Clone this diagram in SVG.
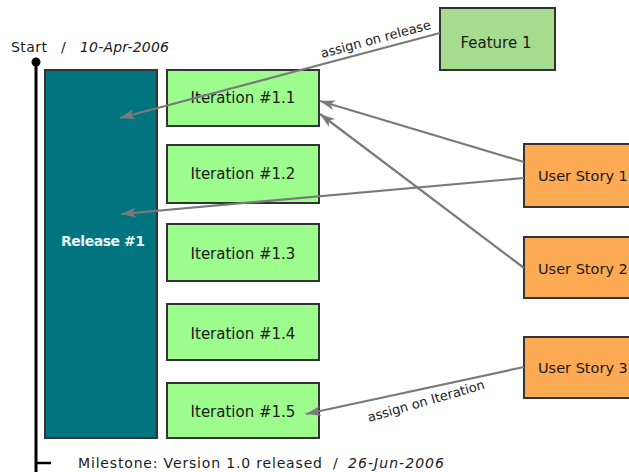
<svg xmlns="http://www.w3.org/2000/svg" width="629" height="472" viewBox="0 0 629 472">
<style>
.t{font-family:"DejaVu Sans","Liberation Sans",sans-serif;fill:#1a1a1a}
.box{stroke:#333;stroke-width:2}
.it{fill:#9cfc8c}
.us{fill:#fdaa55}
.ft{fill:#a6dc8e}
.lbl{font-size:15px;text-anchor:middle}
.usl{font-size:14.5px}
.c{stroke:#7a7a7a;stroke-width:2.2;fill:none;marker-end:url(#ah)}
.cl{font-family:"DejaVu Sans","Liberation Sans",sans-serif;font-size:13px;fill:#222}
</style>
<defs>
<marker id="ah" markerUnits="userSpaceOnUse" markerWidth="16" markerHeight="12" refX="15" refY="5" orient="auto">
<path d="M0,0 L15,5 L0,10 L4,5 Z" fill="#7a7a7a"/>
</marker>
</defs>
<rect width="629" height="472" fill="#fff"/>
<g id="timeline">
<line x1="36" y1="62" x2="36" y2="472" stroke="#000" stroke-width="3"/>
<circle cx="36" cy="62" r="4.5" fill="#000"/>
<line x1="36" y1="463" x2="51" y2="463" stroke="#000" stroke-width="2.5"/>
<text class="t" x="11" y="52" font-size="14" textLength="36">Start</text>
<text class="t" x="61" y="52" font-size="14">/</text>
<text class="t" x="80" y="52" font-size="14" font-style="italic" textLength="89">10-Apr-2006</text>
<text class="t" x="78" y="468" font-size="14" textLength="244">Milestone: Version 1.0 released</text>
<text class="t" x="333" y="468" font-size="14">/</text>
<text class="t" x="348" y="468" font-size="14" font-style="italic" textLength="96">26-Jun-2006</text>
</g>
<g id="release1">
<rect class="box" x="45" y="70" width="112" height="368" fill="#00757f"/>
<text x="103" y="246" font-family="DejaVu Sans, Liberation Sans, sans-serif" font-size="14" font-weight="bold" fill="#e8f4f4" text-anchor="middle" textLength="84">Release #1</text>
</g>
<g id="iter11"><rect class="box it" x="167" y="70" width="152" height="56"/><text class="t lbl" x="243" y="103">Iteration #1.1</text></g>
<g id="iter12"><rect class="box it" x="167" y="145" width="152" height="58"/><text class="t lbl" x="243" y="179">Iteration #1.2</text></g>
<g id="iter13"><rect class="box it" x="167" y="224" width="152" height="57"/><text class="t lbl" x="243" y="259">Iteration #1.3</text></g>
<g id="iter14"><rect class="box it" x="167" y="304" width="152" height="56"/><text class="t lbl" x="243" y="339">Iteration #1.4</text></g>
<g id="iter15"><rect class="box it" x="167" y="383" width="152" height="55"/><text class="t lbl" x="243" y="417">Iteration #1.5</text></g>
<g id="feature1"><rect class="box ft" x="440" y="8" width="115" height="62"/><text class="t lbl" x="496" y="48">Feature 1</text></g>
<g id="story1"><rect class="box us" x="524" y="144" width="120" height="63"/><text class="t usl" x="538" y="181">User Story 1</text></g>
<g id="story2"><rect class="box us" x="524" y="237" width="120" height="61"/><text class="t usl" x="538" y="274">User Story 2</text></g>
<g id="story3"><rect class="box us" x="524" y="337" width="120" height="61"/><text class="t usl" x="538" y="373">User Story 3</text></g>
<g id="connectors">
<line class="c" x1="440" y1="33" x2="120" y2="118"/>
<text class="cl" transform="translate(322,58) rotate(-15)">assign on release</text>
<line class="c" x1="524" y1="162" x2="320" y2="101"/>
<line class="c" x1="524" y1="268" x2="320" y2="114"/>
<line class="c" x1="524" y1="178" x2="121" y2="214"/>
<line class="c" x1="524" y1="367" x2="306" y2="414"/>
<text class="cl" transform="translate(369,422) rotate(-16)">assign on Iteration</text>
</g>
</svg>
